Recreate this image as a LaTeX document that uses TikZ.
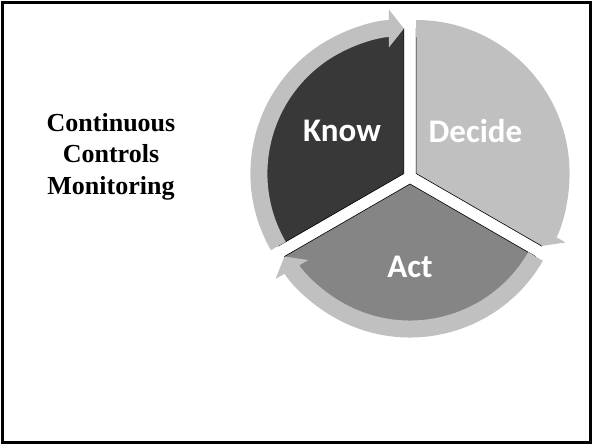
\documentclass[tikz,border=0pt]{standalone}
\usepackage{fontspec}
\setmainfont{Liberation Serif}
\newfontfamily\cyclefont{Carlito}
\usetikzlibrary{arrows.meta,calc}
\definecolor{knowgray}{HTML}{383838}
\definecolor{decidegray}{HTML}{C0C0C0}
\definecolor{actgray}{HTML}{858585}
\definecolor{ringgray}{HTML}{C0C0C0}
\def\wedgepart[#1](#2)(#3:#4:#5){\draw[#1] (#2) -- ++(#3:#5) arc (#3:#4:#5) -- cycle;}
\def\ringpart[#1](#2)(#3:#4:#5){\draw[#1] (#2) ++(#3:#5) arc (#3:#4:#5);}

\begin{document}
\begin{tikzpicture}[x=1pt, y=1pt,
    wedge/.style={draw=black, line width=0.6pt},
    ringarrow/.style={draw=ringgray, line width=17pt, -{Triangle[width=37pt, length=15pt]}},
    steplabel/.style={text=white, font=\cyclefont\bfseries\fontsize{33}{40}\selectfont, inner sep=0pt}]
    %%%%% START %%%%%

    \useasboundingbox (0,0) rectangle (592,445);
    \draw[line width=3pt] (2.5,2.5) rectangle (590.5,442.5);

    \node[font=\bfseries\fontsize{26}{31.5}\selectfont, align=center, inner sep=0pt] (title) at (111,288.5) {Continuous\\Controls\\Monitoring};

    \coordinate (ctr) at (410,268);
    \coordinate (knowc) at ($(ctr)+(150:7)$);
    \coordinate (decidec) at ($(ctr)+(30:7)$);
    \coordinate (actc) at ($(ctr)+(270:7)$);

    \wedgepart[wedge, fill=knowgray](knowc)(90:210:145)
    \wedgepart[wedge, fill=decidegray](decidec)(-30:90:145)
    \wedgepart[wedge, fill=actgray](actc)(210:330:145)

    \ringpart[ringarrow](knowc)(210:90:145)
    \ringpart[ringarrow](decidec)(90:-30:145)
    \ringpart[ringarrow](actc)(330:210:145)

    \node[steplabel] (know) at (342,314) {Know};
    \node[steplabel] (decide) at (475.5,314) {Decide};
    \node[steplabel] (act) at (410,178) {Act};

    %%%%% END %%%%%
\end{tikzpicture}
\end{document}
